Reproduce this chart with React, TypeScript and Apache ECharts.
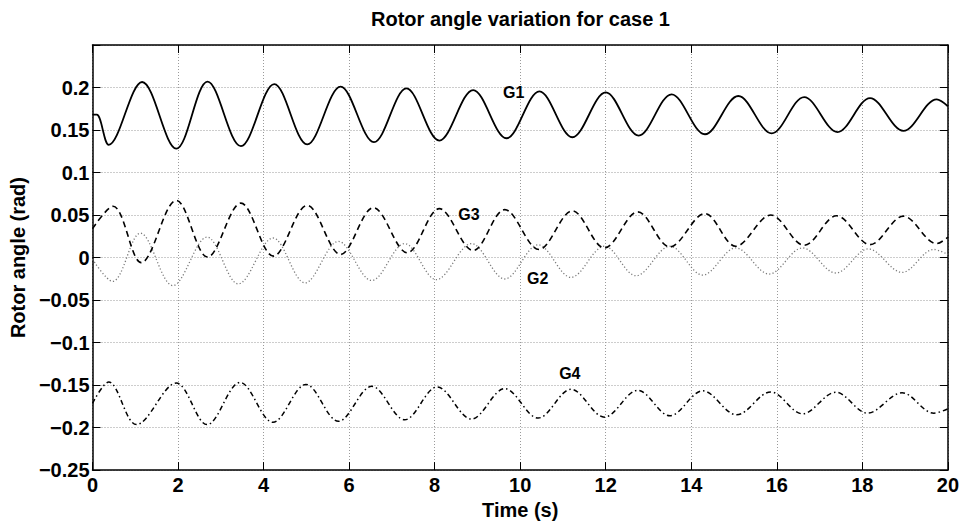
import React, { useEffect, useRef } from 'react';
import * as echarts from 'echarts';

const titleText = 'Rotor angle variation for case 1';
const xName = 'Time (s)';
const yName = 'Rotor angle (rad)';

const g1T = [0, 0.1, 0.38, 1.16, 1.96, 2.69, 3.47, 4.25, 5.02, 5.8, 6.58, 7.34, 8.11, 8.9, 9.68, 10.45, 11.22, 12.0, 12.77, 13.54, 14.32, 15.1, 15.88, 16.64, 17.42, 18.18, 18.96, 19.74, 20];
const g1V = [0.168, 0.168, 0.1326, 0.2065, 0.128, 0.207, 0.131, 0.204, 0.133, 0.201, 0.1357, 0.199, 0.1376, 0.197, 0.1403, 0.1954, 0.1415, 0.1942, 0.1434, 0.192, 0.145, 0.19, 0.146, 0.1888, 0.1476, 0.1876, 0.149, 0.186, 0.178];

const g3T = [0, 0.48, 1.14, 1.96, 2.69, 3.47, 4.23, 5.02, 5.8, 6.57, 7.36, 8.11, 8.9, 9.64, 10.44, 11.22, 11.97, 12.75, 13.5, 14.32, 15.04, 15.86, 16.64, 17.4, 18.18, 18.96, 19.74, 20];
const g3V = [0.034, 0.0603, -0.006, 0.0672, 0.0006, 0.064, 0.0017, 0.0614, 0.0037, 0.0587, 0.0056, 0.0575, 0.0083, 0.0564, 0.0095, 0.0549, 0.0113, 0.0537, 0.0125, 0.0517, 0.0133, 0.05, 0.0144, 0.0491, 0.0152, 0.0487, 0.0164, 0.024];

const g2T = [0, 0.47, 1.12, 1.88, 2.68, 3.41, 4.22, 4.97, 5.75, 6.53, 7.3, 8.04, 8.86, 9.64, 10.42, 11.19, 11.97, 12.71, 13.5, 14.27, 15.04, 15.82, 16.6, 17.38, 18.14, 18.93, 19.67, 20];
const g2V = [-0.002, -0.028, 0.0287, -0.033, 0.024, -0.031, 0.023, -0.0298, 0.019, -0.027, 0.0164, -0.026, 0.0164, -0.0252, 0.015, -0.0233, 0.0133, -0.0214, 0.0133, -0.0206, 0.0113, -0.0194, 0.0113, -0.0182, 0.0102, -0.0175, 0.0095, 0.0037];

const g4T = [0, 0.38, 1.03, 1.96, 2.68, 3.45, 4.22, 4.99, 5.75, 6.53, 7.3, 8.06, 8.86, 9.64, 10.42, 11.19, 11.97, 12.75, 13.5, 14.27, 15.06, 15.86, 16.6, 17.38, 18.12, 18.93, 19.67, 20];
const g4V = [-0.1715, -0.1464, -0.1965, -0.1476, -0.1965, -0.1469, -0.1938, -0.1492, -0.1926, -0.1515, -0.1908, -0.1522, -0.19, -0.1542, -0.1888, -0.155, -0.1877, -0.1561, -0.1861, -0.1568, -0.185, -0.158, -0.1838, -0.1584, -0.183, -0.1591, -0.183, -0.178];

const labelNames = ['G1', 'G2', 'G3', 'G4'];
const labelX = [9.85, 10.41, 8.8, 11.16];
const labelY = [0.194, -0.0248, 0.0508, -0.1368];

const xMin = 0;
const xMax = 20;
const xStep = 2;
const yMin = -0.25;
const yMax = 0.25;
const yStep = 0.05;

const FONT = '"Liberation Sans", Arial, Helvetica, sans-serif';

const zip = (t: number[], v: number[]) => t.map((x, i) => [x, v[i]]);

const fmtY = (v: number) => {
  const r = Math.round(v * 100) / 100;
  if (Math.abs(r - yMax) < 1e-9) return '';
  const s = String(Math.abs(r));
  return r < 0 ? '\u2212' + s : s;
};

export default function App() {
  const ref = useRef<HTMLDivElement>(null);
  useEffect(() => {
    if (!ref.current) return;
    const chart = echarts.init(ref.current, undefined, { renderer: 'svg' });
    const axisLine = { show: true, onZero: false, lineStyle: { color: '#000', width: 1.5 } };
    const tick = { show: true, inside: true, length: 8, lineStyle: { color: '#000', width: 1 } };
    const split = { show: true, lineStyle: { color: '#9a9a9a', type: [1, 2] as any, width: 1 } };
    const tickLabel = { color: '#000', fontWeight: 'bold' as const, fontSize: 20, fontFamily: FONT };
    const mk = (i: number) => ({
      symbol: 'rect',
      symbolSize: 1,
      itemStyle: { color: 'rgba(0,0,0,0)' },
      label: {
        show: true,
        position: 'inside',
        formatter: labelNames[i],
        color: '#000',
        fontWeight: 'bold',
        fontSize: 16,
        fontFamily: FONT,
      },
      data: [{ coord: [labelX[i], labelY[i]] }],
    });
    const base = {
      type: 'line',
      showSymbol: false,
      symbol: 'none',
      smooth: 0.35,
      silent: true,
      xAxisIndex: 0,
      yAxisIndex: 0,
    };
    chart.setOption({
      animation: false,
      backgroundColor: '#fff',
      grid: { left: 92, top: 45, right: 13, bottom: 47, containLabel: false },
      graphic: [
        {
          type: 'text',
          x: 520.5,
          y: 9,
          style: {
            text: titleText,
            textAlign: 'center',
            textVerticalAlign: 'top',
            font: 'bold 20px ' + FONT,
            fill: '#000',
          },
        },
      ],
      xAxis: [
        {
          type: 'value',
          min: xMin,
          max: xMax,
          interval: xStep,
          position: 'bottom',
          axisLine,
          axisTick: tick,
          splitLine: split,
          axisLabel: { ...tickLabel, margin: 5 },
          name: xName,
          nameLocation: 'middle',
          nameGap: 24,
          nameTextStyle: { color: '#000', fontWeight: 'bold', fontSize: 20, fontFamily: FONT },
        },
        {
          type: 'value',
          min: xMin,
          max: xMax,
          interval: xStep,
          position: 'top',
          axisLine,
          axisTick: tick,
          splitLine: { show: false },
          axisLabel: { show: false },
        },
      ],
      yAxis: [
        {
          type: 'value',
          min: yMin,
          max: yMax,
          interval: yStep,
          position: 'left',
          axisLine,
          axisTick: tick,
          splitLine: split,
          axisLabel: { ...tickLabel, margin: 3, formatter: fmtY },
          name: yName,
          nameLocation: 'middle',
          nameGap: 60,
          nameTextStyle: { color: '#000', fontWeight: 'bold', fontSize: 20, fontFamily: FONT },
        },
        {
          type: 'value',
          min: yMin,
          max: yMax,
          interval: yStep,
          position: 'right',
          axisLine,
          axisTick: tick,
          splitLine: { show: false },
          axisLabel: { show: false },
        },
      ],
      series: [
        {
          ...base,
          name: 'G1',
          data: zip(g1T, g1V),
          lineStyle: { color: '#000', width: 1.8, type: 'solid' },
          markPoint: mk(0),
        },
        {
          ...base,
          name: 'G2',
          data: zip(g2T, g2V),
          lineStyle: { color: '#7a7a7a', width: 1.3, type: [1.2, 2.2] },
          markPoint: mk(1),
        },
        {
          ...base,
          name: 'G3',
          data: zip(g3T, g3V),
          lineStyle: { color: '#000', width: 1.6, type: [6, 4] },
          markPoint: mk(2),
        },
        {
          ...base,
          name: 'G4',
          data: zip(g4T, g4V),
          lineStyle: { color: '#000', width: 1.5, type: [5, 3, 1.5, 3] },
          markPoint: mk(3),
        },
      ],
    });
    return () => chart.dispose();
  }, []);
  return <div ref={ref} style={{ width: 962, height: 525, position: 'absolute', left: 0, top: 0 }} />;
}
